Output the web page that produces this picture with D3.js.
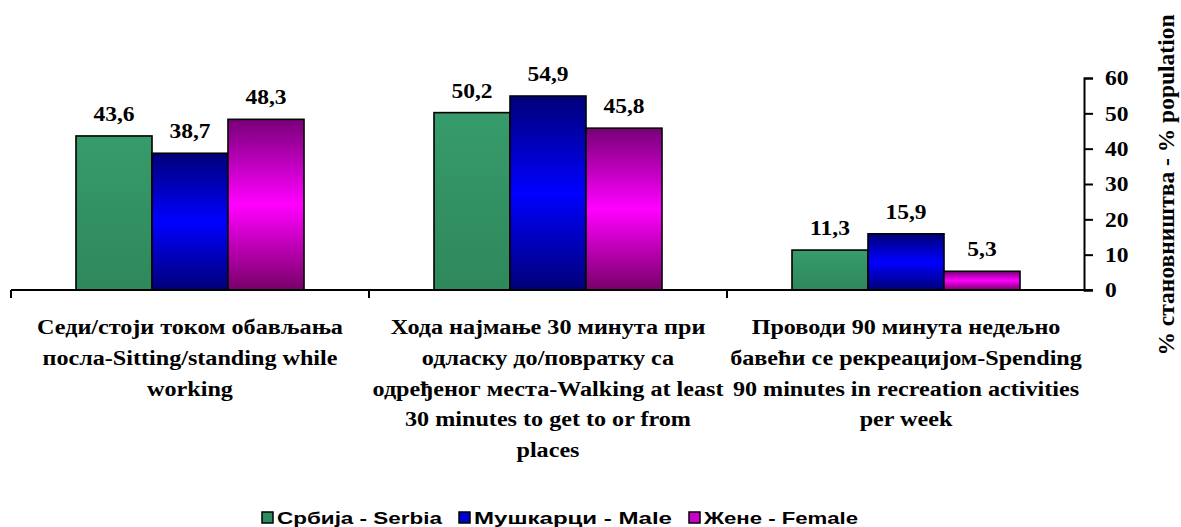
<!DOCTYPE html>
<html>
<head>
<meta charset="utf-8">
<script src="https://cdn.jsdelivr.net/npm/d3@7"></script>
<style>
  html, body { margin: 0; padding: 0; background: #fff; }
  svg { display: block; }
</style>
</head>
<body>
<svg id="chart" width="1181" height="527"></svg>
<script>
const categories = [
  ["Седи/стоји током обављања", "посла-Sitting/standing while", "working"],
  ["Хода најмање 30 минута при", "одласку до/повратку са", "одређеног места-Walking at least", "30 minutes to get to or from", "places"],
  ["Проводи 90 минута недељно", "бавећи се рекреацијом-Spending", "90 minutes in recreation activities", "per week"]
];
const seriesNames = ["Србија - Serbia", "Мушкарци - Male", "Жене - Female"];
const serbia = [43.6, 50.2, 11.3];
const male = [38.7, 54.9, 15.9];
const female = [48.3, 45.8, 5.3];
const yTicks = [0, 10, 20, 30, 40, 50, 60];
const yTitle = "% становништва - % population";

const seriesValues = [serbia, male, female];
const catKeys = categories.map((c, i) => "c" + i);

const svg = d3.select("#chart");
const defs = svg.append("defs");

const gBlue = defs.append("linearGradient").attr("id", "gBlue").attr("x1", 0).attr("y1", 0).attr("x2", 0).attr("y2", 1);
[[0, "#000078"], [0.5, "#0000ff"], [1, "#000078"]].forEach(s => gBlue.append("stop").attr("offset", s[0]).attr("stop-color", s[1]));
const gMag = defs.append("linearGradient").attr("id", "gMag").attr("x1", 0).attr("y1", 0).attr("x2", 0).attr("y2", 1);
[[0, "#780078"], [0.5, "#ff00ff"], [1, "#780068"]].forEach(s => gMag.append("stop").attr("offset", s[0]).attr("stop-color", s[1]));
const gGreen = defs.append("linearGradient").attr("id", "gGreen").attr("x1", 0).attr("y1", 0).attr("x2", 0).attr("y2", 1);
[[0, "#379b6b"], [1, "#2e885b"]].forEach(s => gGreen.append("stop").attr("offset", s[0]).attr("stop-color", s[1]));
const fills = ["url(#gGreen)", "url(#gBlue)", "url(#gMag)"];
const legendFills = ["#2e8b5f", "#0000cc", "#cc00cc"];

const y = d3.scaleLinear().domain([0, 60]).range([290, 78]);
const x0 = d3.scaleBand().domain(catKeys).range([11, 1085]).paddingInner(0).paddingOuter(0);
const bw = x0.bandwidth();
const x1 = d3.scaleBand().domain(d3.range(seriesNames.length)).range([65, bw - 65]).padding(0);

const serifBold = "'Liberation Serif','Times New Roman',serif";
const sansBold = "'Liberation Sans',Arial,sans-serif";

// bars
const groups = svg.append("g").selectAll("g").data(catKeys).join("g")
  .attr("transform", d => `translate(${x0(d)},0)`);
groups.each(function(k, ci) {
  const g = d3.select(this);
  seriesValues.forEach((vals, si) => {
    const v = vals[ci];
    g.append("rect")
      .attr("x", x1(si))
      .attr("y", y(v))
      .attr("width", x1.bandwidth())
      .attr("height", y(0) - y(v))
      .attr("fill", fills[si])
      .attr("stroke", "#000")
      .attr("stroke-width", 1.6);
    g.append("text")
      .attr("transform", `translate(${x1(si) + x1.bandwidth() / 2},${y(v) - 15}) scale(1.12,1)`)
      .attr("text-anchor", "middle")
      .style("font-family", serifBold)
      .style("font-weight", "bold")
      .style("font-size", "21px")
      .text(d3.format(".1f")(v).replace(".", ","));
  });
});

// x axis line
svg.append("line").attr("x1", 11).attr("x2", 1093).attr("y1", y(0)).attr("y2", y(0))
  .attr("stroke", "#000").attr("stroke-width", 2);
catKeys.forEach(k => {
  svg.append("line").attr("x1", x0(k)).attr("x2", x0(k)).attr("y1", y(0)).attr("y2", y(0) + 8)
    .attr("stroke", "#000").attr("stroke-width", 2);
});

// category labels
catKeys.forEach((k, i) => {
  const t = svg.append("text")
    .attr("transform", `translate(${x0(k) + bw / 2},0) scale(1.15,1)`)
    .attr("text-anchor", "middle")
    .style("font-family", serifBold)
    .style("font-weight", "bold")
    .style("font-size", "21px");
  categories[i].forEach((line, li) => {
    t.append("tspan").attr("x", 0).attr("y", 334 + li * 30.8).text(line);
  });
});

// y axis on right
const yAxis = d3.axisRight(y).tickValues(yTicks).tickSize(9).tickSizeOuter(9).tickPadding(12);
const ya = svg.append("g").attr("transform", "translate(1084,0)").call(yAxis);
ya.select(".domain").attr("stroke-width", 2);
ya.selectAll(".tick line").attr("stroke-width", 2);
ya.selectAll(".tick text")
  .attr("x", 21 / 1.12)
  .attr("transform", "scale(1.12,1)")
  .style("font-family", serifBold)
  .style("font-weight", "bold")
  .style("font-size", "21px")
  .attr("fill", "#000");

// y title
svg.append("text")
  .attr("transform", "translate(1174,185) rotate(-90)")
  .attr("text-anchor", "middle")
  .style("font-family", serifBold)
  .style("font-weight", "bold")
  .style("font-size", "23.5px")
  .text(yTitle);

// legend
const legendX = [262, 459, 689];
const legendW = [165, 198, 154];
const lg = svg.append("g");
seriesNames.forEach((name, i) => {
  lg.append("rect").attr("x", legendX[i]).attr("y", 512).attr("width", 11).attr("height", 11)
    .attr("fill", legendFills[i]).attr("stroke", "#000").attr("stroke-width", 1.5);
  lg.append("text")
    .attr("x", legendX[i] + 15)
    .attr("y", 524)
    .attr("textLength", legendW[i])
    .attr("lengthAdjust", "spacingAndGlyphs")
    .style("font-family", sansBold)
    .style("font-weight", "bold")
    .style("font-size", "17px")
    .text(name);
});
</script>
</body>
</html>
